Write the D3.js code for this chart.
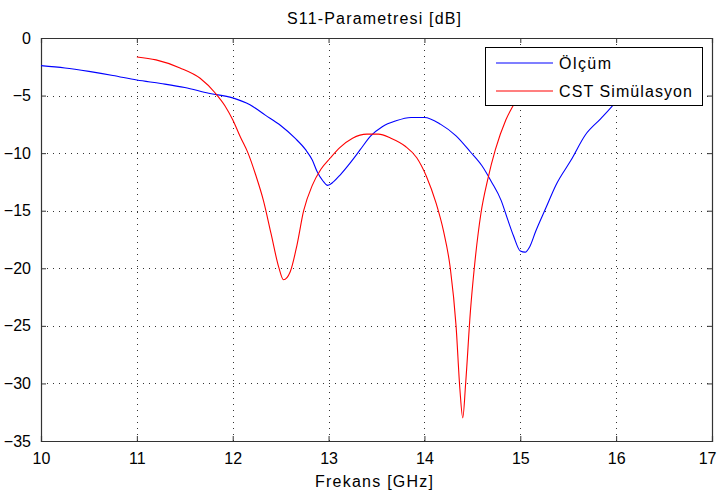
<!DOCTYPE html>
<html>
<head>
<meta charset="utf-8">
<script src="https://cdn.jsdelivr.net/npm/d3@7"></script>
<style>
  html, body { margin: 0; padding: 0; background: #fff; }
  svg text { font-family: "Liberation Sans", Arial, Helvetica, sans-serif; fill: #000; }
</style>
</head>
<body>
<svg id="chart" width="718" height="495"></svg>
<script>
// ---- data ----
const xTicks = [10, 11, 12, 13, 14, 15, 16, 17];
const yTicks = [0, -5, -10, -15, -20, -25, -30, -35];

const freqOlcum = [10.0, 10.25, 10.5, 10.75, 11.0, 11.25, 11.5, 11.75, 12.0, 12.18, 12.34, 12.5, 12.65, 12.76, 12.83, 12.88, 12.94, 12.99, 13.05, 13.12, 13.23, 13.33, 13.44, 13.56, 13.7, 13.86, 14.0, 14.17, 14.33, 14.48, 14.6, 14.7, 14.8, 14.87, 14.93, 15.0, 15.05, 15.1, 15.16, 15.27, 15.37, 15.53, 15.68, 15.84, 15.95, 16.05];
const s11Olcum  = [-2.4, -2.6, -2.9, -3.25, -3.65, -3.95, -4.3, -4.8, -5.2, -5.8, -6.7, -7.6, -8.7, -9.7, -10.6, -11.6, -12.4, -12.8, -12.5, -11.9, -10.8, -9.7, -8.5, -7.7, -7.2, -6.9, -6.9, -7.5, -8.5, -9.9, -11.1, -12.5, -14.1, -15.8, -17.2, -18.5, -18.6, -18.1, -16.8, -14.7, -12.8, -10.6, -8.4, -7.0, -6.0, -5.0];

const freqCST = [11.0, 11.2, 11.45, 11.66, 11.82, 11.92, 12.0, 12.08, 12.16, 12.24, 12.32, 12.4, 12.48, 12.53, 12.6, 12.67, 12.74, 12.83, 12.92, 13.02, 13.12, 13.25, 13.4, 13.52, 13.65, 13.8, 13.92, 14.02, 14.12, 14.2, 14.27, 14.33, 14.37, 14.40, 14.43, 14.48, 14.52, 14.59, 14.66, 14.74, 14.85, 14.95, 15.05];
const s11CST  = [-1.65, -1.9, -2.6, -3.5, -4.8, -5.9, -7.1, -8.6, -10.0, -11.9, -14.1, -17.0, -19.9, -21.0, -20.3, -18.0, -15.0, -12.8, -11.4, -10.4, -9.5, -8.7, -8.35, -8.35, -8.7, -9.4, -10.4, -12.0, -14.3, -16.8, -20.0, -25.0, -30.5, -33.0, -30.0, -23.7, -20.0, -15.2, -12.3, -9.7, -7.1, -5.5, -4.0];

const seriesNames = ["Ölçüm", "CST Simülasyon"];
const seriesColors = ["#0000ff", "#ff0000"];
const titleText = "S11-Parametresi [dB]";
const xLabelText = "Frekans [GHz]";

// ---- layout ----
const svg = d3.select("#chart");
const m = { left: 41, top: 38, right: 712, bottom: 441 };
const x = d3.scaleLinear().domain([10, 17]).range([m.left, m.right]);
const y = d3.scaleLinear().domain([-35, 0]).range([m.bottom, m.top]);
const W = m.right - m.left, H = m.bottom - m.top;

svg.append("rect").attr("width", 718).attr("height", 495).attr("fill", "#fff");

svg.append("defs").append("clipPath").attr("id", "clip")
  .append("rect").attr("x", m.left).attr("y", m.top).attr("width", W).attr("height", H);

// grid
const grid = svg.append("g").attr("stroke", "#333").attr("stroke-width", 1)
  .attr("stroke-dasharray", "1,5").attr("fill", "none").attr("shape-rendering", "crispEdges");
xTicks.slice(1, -1).forEach(t => {
  grid.append("line").attr("x1", Math.round(x(t)) + 0.5).attr("x2", Math.round(x(t)) + 0.5)
    .attr("y1", m.top).attr("y2", m.bottom);
});
yTicks.slice(1, -1).forEach(t => {
  grid.append("line").attr("y1", Math.round(y(t)) + 0.5).attr("y2", Math.round(y(t)) + 0.5)
    .attr("x1", m.left).attr("x2", m.right);
});

// axes (inward ticks on all four sides)
const axisColor = "#333";
const fontSize = 16;
const axB = d3.axisBottom(x).tickValues(xTicks).tickSize(-5).tickPadding(12).tickFormat(d3.format("d"));
const axT = d3.axisTop(x).tickValues(xTicks).tickSize(-5).tickFormat("");
const axL = d3.axisLeft(y).tickValues(yTicks).tickSize(-5).tickPadding(10).tickFormat(d3.format("d"));
const axR = d3.axisRight(y).tickValues(yTicks).tickSize(-5).tickFormat("");

function styleAxis(g) {
  g.selectAll("path").attr("stroke", axisColor);
  g.selectAll("line").attr("stroke", axisColor);
  g.selectAll("text").attr("font-size", fontSize).attr("fill", "#000")
    .style("font-family", "'Liberation Sans', Arial, sans-serif");
  g.attr("font-family", null).attr("font-size", null);
}
const bottomAxis = svg.append("g").attr("transform", `translate(0,${m.bottom})`).call(axB).call(styleAxis);
bottomAxis.selectAll("text").attr("dy", "0.71em");
// keep the last label inside the picture
bottomAxis.selectAll(".tick").filter(d => d === 17).select("text").attr("text-anchor", "end").attr("dx", "0.25em");
svg.append("g").attr("transform", `translate(0,${m.top})`).call(axT).call(styleAxis);
svg.append("g").attr("transform", `translate(${m.left},0)`).call(axL).call(styleAxis);
svg.append("g").attr("transform", `translate(${m.right},0)`).call(axR).call(styleAxis);
svg.selectAll(".domain").attr("stroke-width", 1.2);

// lines
const line = d3.line().x(d => x(d[0])).y(d => y(d[1])).curve(d3.curveMonotoneX);
const olcum = freqOlcum.map((f, i) => [f, s11Olcum[i]]);
const cst = freqCST.map((f, i) => [f, s11CST[i]]);
const plot = svg.append("g").attr("clip-path", "url(#clip)");
plot.append("path").datum(olcum).attr("d", line).attr("fill", "none")
  .attr("stroke", seriesColors[0]).attr("stroke-width", 1.1);
plot.append("path").datum(cst).attr("d", line).attr("fill", "none")
  .attr("stroke", seriesColors[1]).attr("stroke-width", 1.1);

// title and x label
svg.append("text").attr("x", 374).attr("y", 24).attr("text-anchor", "middle")
  .attr("font-size", fontSize).attr("textLength", 174).attr("lengthAdjust", "spacing").text(titleText);
svg.append("text").attr("x", 374).attr("y", 487).attr("text-anchor", "middle")
  .attr("font-size", fontSize).attr("textLength", 118).attr("lengthAdjust", "spacing").text(xLabelText);

// legend
const leg = svg.append("g");
leg.append("rect").attr("x", 485.5).attr("y", 47.5).attr("width", 217).attr("height", 58)
  .attr("fill", "#fff").attr("stroke", "#000").attr("stroke-width", 1);
const legRows = [63, 91];
const legLens = [52, 133];
seriesNames.forEach((name, i) => {
  leg.append("line").attr("x1", 496).attr("x2", 553).attr("y1", legRows[i]).attr("y2", legRows[i])
    .attr("stroke", seriesColors[i]).attr("stroke-width", 1.1);
  leg.append("text").attr("x", 559).attr("y", legRows[i] + 6).attr("font-size", fontSize)
    .attr("textLength", legLens[i]).attr("lengthAdjust", "spacing").text(name);
});
</script>
</body>
</html>
